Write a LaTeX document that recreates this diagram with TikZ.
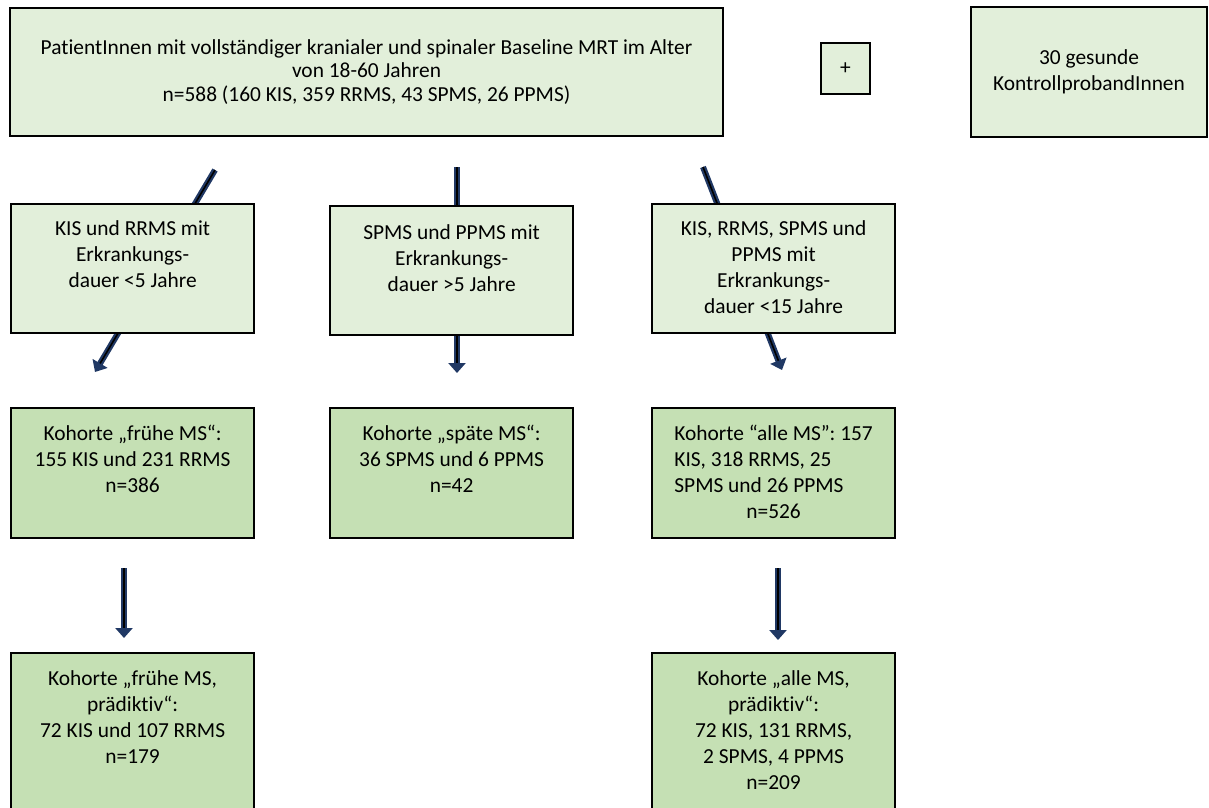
\documentclass[tikz,border=0pt]{standalone}
\usepackage{fontspec}
\setmainfont{Carlito}[Ligatures={TeX,NoCommon}]
\usetikzlibrary{arrows.meta,backgrounds}
\definecolor{paleleaf}{HTML}{E2EFDA}
\definecolor{leaf}{HTML}{C5E0B4}
\definecolor{navyink}{HTML}{203864}

\begin{document}
\begin{tikzpicture}[
    x=1pt, y=-1pt,
    font=\fontsize{21.4}{26}\selectfont,
    box/.style={draw=black, line width=2.2pt, fill=paleleaf, align=center, inner sep=0pt},
    crit/.style={box, anchor=north west, minimum width=243pt, text height=83pt, text depth=46pt},
    cohort/.style={crit, fill=leaf, text height=84pt},
    flow/.style={draw=navyink, line width=6pt, -{Triangle[width=17pt, length=10pt]},
        postaction={draw=black, line width=1.6pt, arrows=-, shorten >=10pt}},
]
    \useasboundingbox (0,0) rectangle (1209,807);

    % --- Baseline ---
    \node[box, minimum width=713pt, minimum height=128pt, font=\fontsize{21.4}{23.5}\selectfont] (base) at (366.5,72)
        {PatientInnen mit vollständiger kranialer und spinaler Baseline MRT im Alter\\von 18-60 Jahren\\n=588 (160 KIS, 359 RRMS, 43 SPMS, 26 PPMS)};
    \node[box, minimum width=49pt, minimum height=51pt] (plus) at (845.5,68.5) {+};
    \node[box, minimum width=236pt, minimum height=130pt] (ctrl) at (1089,72)
        {30 gesunde\\KontrollprobandInnen};

    % --- Criteria ---
    \node[crit] (early) at (10,203) {KIS und RRMS mit\\Erkrankungs-\\dauer <5 Jahre};
    \node[crit, text height=85pt, text depth=44pt] (late) at (329,205) {SPMS und PPMS mit\\Erkrankungs-\\dauer >5 Jahre};
    \node[crit, text height=109pt, text depth=20pt] (all) at (651,203) {KIS, RRMS, SPMS und\\PPMS mit\\Erkrankungs-\\dauer <15 Jahre};

    % --- Cohorts ---
    \node[cohort] (earlyc) at (10,407) {Kohorte „frühe MS“:\\155 KIS und 231 RRMS\\n=386};
    \node[cohort] (latec) at (329,407) {Kohorte „späte MS“:\\36 SPMS und 6 PPMS\\n=42};
    \node[cohort, align=left, text height=110pt, text depth=20pt] (allc) at (651,407)
        {Kohorte “alle MS”: 157\\KIS, 318 RRMS, 25\\SPMS und 26 PPMS\\\hfill n=526\hfill\mbox{}};

    % --- Predictive cohorts ---
    \node[cohort, text height=110pt, text depth=68pt] (earlyp) at (10,652) {Kohorte „frühe MS,\\prädiktiv“:\\72 KIS und 107 RRMS\\n=179};
    \node[cohort, text height=136pt, text depth=42pt] (allp) at (651,652) {Kohorte „alle MS,\\prädiktiv“:\\72 KIS, 131 RRMS,\\2 SPMS, 4 PPMS\\n=209};

    % --- Arrows ---
    \coordinate (e1) at (215,170);
    \coordinate (e2) at (95,372);
    \coordinate (l1) at (457,167);
    \coordinate (l2) at (457,373);
    \coordinate (a1) at (703,167);
    \coordinate (a2) at (782,370);
    \coordinate (p1) at (124,568);
    \coordinate (p2) at (124,638);
    \coordinate (q1) at (778,568);
    \coordinate (q2) at (778,640);

    \begin{scope}[on background layer]
        \draw[flow] (e1) -- (e2);
        \draw[flow] (l1) -- (l2);
        \draw[flow] (a1) -- (a2);
    \end{scope}
    \draw[flow] (p1) -- (p2);
    \draw[flow] (q1) -- (q2);

\end{tikzpicture}
\end{document}
